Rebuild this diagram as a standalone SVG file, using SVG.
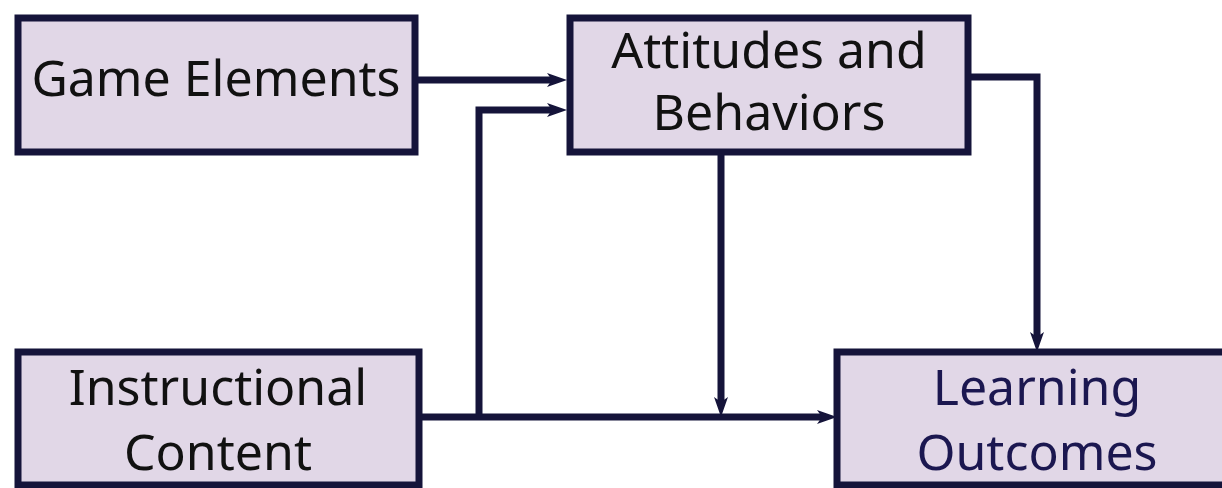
<svg xmlns="http://www.w3.org/2000/svg" width="1222" height="488" viewBox="0 0 1222 488">
<style>
.box{fill:#e1d7e7;stroke:#15143a;stroke-width:7}
.lbl{font-family:"Noto Sans","Open Sans",sans-serif;font-size:50px;fill:#111;text-anchor:middle}
.lbl2{fill:#1b1750}
.conn{fill:none;stroke:#15143a;stroke-width:7;stroke-linejoin:miter}
</style>
<defs>
<marker id="ah" markerUnits="userSpaceOnUse" markerWidth="22" markerHeight="16" refX="9" refY="8" orient="auto">
<path d="M0,1 L20,8 L0,15 L5,8 z" fill="#15143a"/>
</marker>
</defs>
<rect width="1222" height="488" fill="#ffffff"/>
<g id="connectors">
<path class="conn" d="M418,80 H556" marker-end="url(#ah)"/>
<path class="conn" d="M479,417 V110 H556" marker-end="url(#ah)"/>
<path class="conn" d="M422,417 H826" marker-end="url(#ah)"/>
<path class="conn" d="M721,155 V406" marker-end="url(#ah)"/>
<path class="conn" d="M971,77 H1037 V341" marker-end="url(#ah)"/>
</g>
<g id="game-elements">
<rect class="box" x="18" y="18" width="397" height="134"/>
<text class="lbl" x="216" y="96">Game Elements</text>
</g>
<g id="attitudes-behaviors">
<rect class="box" x="570" y="18" width="398" height="134"/>
<text class="lbl" x="769" y="68">Attitudes and</text>
<text class="lbl" x="769" y="130">Behaviors</text>
</g>
<g id="instructional-content">
<rect class="box" x="18" y="352" width="401" height="133"/>
<text class="lbl" x="218" y="405">Instructional</text>
<text class="lbl" x="218" y="470">Content</text>
</g>
<g id="learning-outcomes">
<rect class="box" x="837" y="352" width="400" height="133"/>
<text class="lbl lbl2" x="1037" y="405">Learning</text>
<text class="lbl lbl2" x="1037" y="470">Outcomes</text>
</g>
</svg>
